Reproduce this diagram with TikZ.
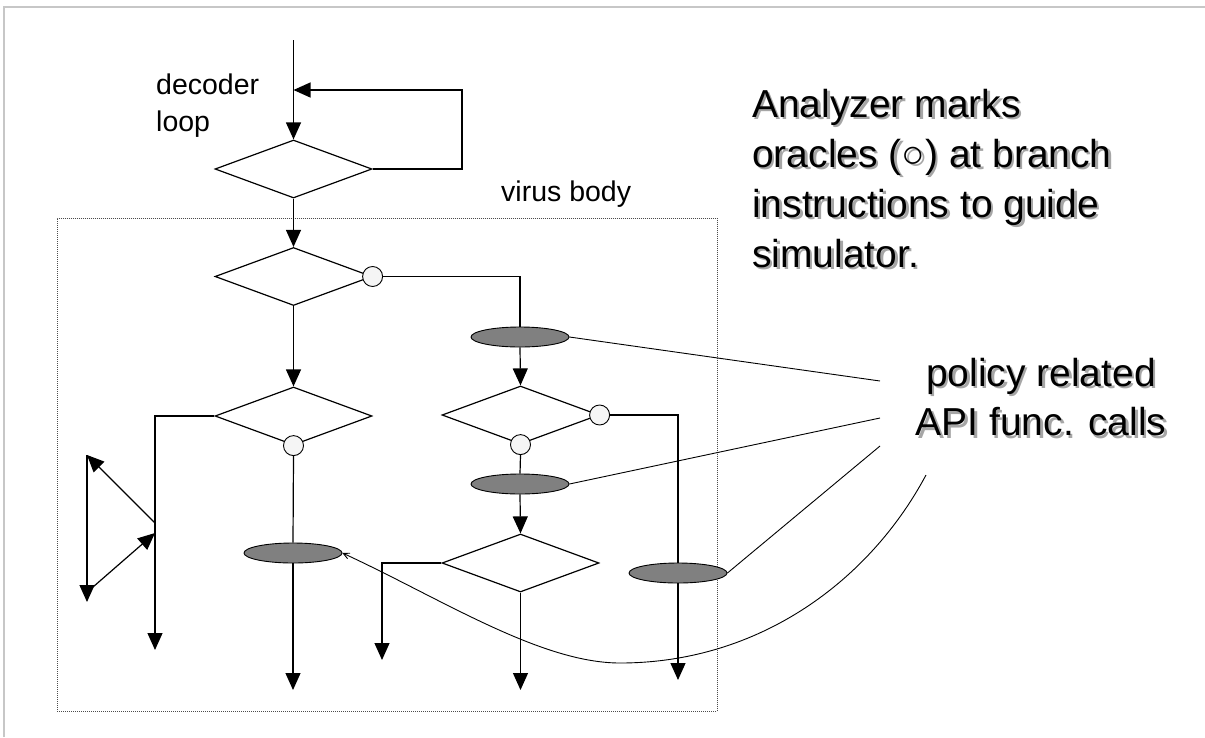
\documentclass[tikz,border=0pt]{standalone}
\usepackage{fontspec}
\setmainfont{Liberation Sans}
\usetikzlibrary{shapes.geometric,arrows.meta}
% text with a soft grey drop shadow, set in one box
\newcommand{\shadowtxt}[1]{\rlap{\hspace{2.5pt}\raisebox{-2.5pt}{\textcolor{black!35}{#1}}}#1}
\begin{document}
\begin{tikzpicture}[x=1pt,y=-1pt,
  wire/.style={line width=1.2pt, black},
  flow/.style={wire, -{Triangle[length=17pt,width=15pt]}},
  decision/.style={diamond, draw, line width=1.2pt, minimum width=157pt,
    minimum height=58pt, inner sep=0pt, fill=white},
  oracle/.style={circle, draw, line width=0.9pt, fill=black!4,
    minimum size=20pt, inner sep=0pt},
  apicall/.style={ellipse, draw, line width=0.9pt, fill=black!50,
    minimum width=98pt, minimum height=20pt, inner sep=0pt},
  leader/.style={line width=0.9pt, black},
  bigtext/.style={font=\fontsize{39}{50}\selectfont, inner sep=0pt},
  smalltext/.style={font=\fontsize{28.5}{37}\selectfont, inner sep=0pt},
]
\useasboundingbox (0,0) rectangle (1205,737);
% slide frame
\draw[black!22, line width=2.5pt] (4,737) -- (4,7) -- (1205,7);

% virus body region
\node[draw=black!70, dash pattern=on 1pt off 1pt, line width=0.8pt,
  minimum width=660pt, minimum height=493pt, inner sep=0pt,
  anchor=north west] (body) at (57,218) {};

% decision diamonds
\node[decision] (d1) at (293.5,169) {};
\node[decision] (d2) at (293.5,276.5) {};
\node[decision] (d3) at (293.5,416) {};
\node[decision] (d4) at (520.5,415) {};
\node[decision] (d5) at (520.5,563) {};

% policy related API calls
\node[apicall] (e1) at (520,337) {};
\node[apicall] (e2) at (293,553) {};
\node[apicall] (e3) at (678,573) {};
\node[apicall] (e4) at (520,484) {};

% oracles on branches
\node[oracle] (o1) at (d2.east) {};
\node[oracle] (o2) at (d3.south) {};
\node[oracle] (o3) at (d4.east) {};
\node[oracle] (o4) at (d4.south) {};

% free ends
\coordinate (entry) at (293.5,40);
\coordinate (loopcorner) at (462,90);
\coordinate (loopin) at (293.5,90);
\coordinate (x1) at (155,650);
\coordinate (x2) at (293,690);
\coordinate (x3) at (382,660);
\coordinate (x4) at (520.5,690);
\coordinate (x5) at (678,680);
\coordinate (t1) at (155,523);
\coordinate (t2) at (87,455);
\coordinate (t3) at (87,602);
\coordinate (t4) at (93,587);
\coordinate (t5) at (155,533);
\coordinate (p1) at (880,381);
\coordinate (p2) at (880,418);
\coordinate (p3) at (880,446);
\coordinate (p4) at (926,475);

% decoder loop
\draw[flow] (entry) -- (d1.north);
\draw[flow] (d1.east) -| (loopcorner) -- (loopin);
\draw[flow] (d1.south) -- (d2.north);

% left branch
\draw[flow] (d2.south) -- (d3.north);
\draw[flow] (d3.west) -| (x1);
\draw[wire] (o2.south) -- (e2.north);
\draw[flow] (e2.south) -- (x2);
\draw[flow] (t1) -- (t2);
\draw[flow] (t2) -- (t3);
\draw[flow] (t4) -- (t5);

% right branch
\draw[wire] (o1.east) -| (e1.north);
\draw[flow] (e1.south) -- (d4.north);
\draw[wire] (o3.east) -| (e3.north);
\draw[flow] (e3.south) -- (x5);
\draw[wire] (o4.south) -- (e4.north);
\draw[flow] (e4.south) -- (d5.north);
\draw[flow] (d5.west) -| (x3);
\draw[flow] (d5.south) -- (x4);

% leader lines to the API call label
\draw[leader] (e1.east) -- (p1);
\draw[leader] (e4.east) -- (p2);
\draw[leader] (e3.east) -- (p3);
\draw[leader, {Straight Barb[length=6pt,width=6pt]}-] (e2.east)
  .. controls (440,598) and (540,663) .. (620,663)
  .. controls (760,663) and (870,580) .. (p4);

% labels
\node[smalltext, anchor=base west] (dec1) at (156,94) {decoder};
\node[smalltext, anchor=base west] (dec2) at (156,131) {loop};
\node[smalltext, anchor=base west] (vb) at (501,201) {virus body};

\node[bigtext, anchor=base west] (a1) at (752,117) {\shadowtxt{Analyzer marks}};
\node[bigtext, anchor=base west] (a2) at (752,167) {\shadowtxt{oracles (○) at branch}};
\node[bigtext, anchor=base west] (a3) at (752,217) {\shadowtxt{instructions to guide}};
\node[bigtext, anchor=base west] (a4) at (752,267) {\shadowtxt{simulator.}};

\node[bigtext, anchor=base] (b1) at (1041,386) {\shadowtxt{policy related}};
\node[bigtext, anchor=base] (b2) at (1041,435.5) {\shadowtxt{API func. calls}};
\end{tikzpicture}
\end{document}
